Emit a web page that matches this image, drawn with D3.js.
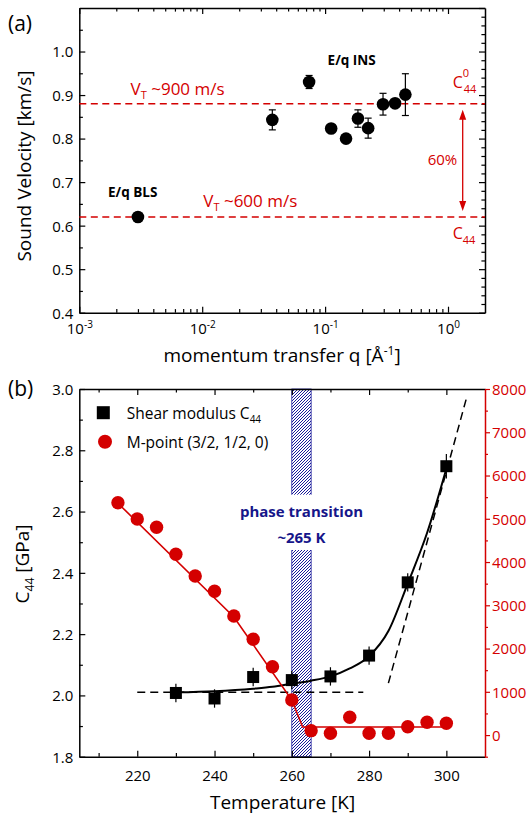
<!DOCTYPE html>
<html>
<head>
<meta charset="utf-8">
<script src="https://cdn.jsdelivr.net/npm/d3@7"></script>
<style>
  body { margin: 0; background: #fff; }
  text { font-family: "Open Sans", sans-serif; }
</style>
</head>
<body>
<div id="chart"></div>
<script>
// ---- panel (a): sound velocity vs momentum transfer ----
const qValues   = [0.003, 0.0372, 0.0741, 0.112, 0.148, 0.185, 0.224, 0.296, 0.371, 0.45];
const velValues = [0.62, 0.843, 0.930, 0.823, 0.800, 0.846, 0.824, 0.879, 0.881, 0.901];
const velErrors = [0, 0.023, 0.015, 0, 0, 0.02, 0.023, 0.025, 0, 0.048];
const vtLevels  = [0.88, 0.62];
const qTicks    = [1e-3, 1e-2, 1e-1, 1];
const qTickExp  = ["-3", "-2", "-1", "0"];
const velTicks  = [0.4, 0.5, 0.6, 0.7, 0.8, 0.9, 1.0];

// ---- panel (b): C44 and M-point vs temperature ----
const tempC44   = [230, 240, 250, 260, 270, 280, 290, 300];
const c44Values = [2.008, 1.99, 2.06, 2.05, 2.062, 2.13, 2.369, 2.748];
const c44Errors = [0.03, 0.03, 0.03, 0.03, 0.03, 0.03, 0.03, 0.04];
const c44FitT   = [230, 240, 250, 255, 260, 265, 270, 275, 280, 285, 290, 295, 300];
const c44FitV   = [2.010, 2.014, 2.022, 2.028, 2.038, 2.048, 2.062, 2.088, 2.128, 2.21, 2.365, 2.53, 2.74];
const tempM     = [215, 220, 225, 230, 235, 240, 245, 250, 255, 260, 265, 270, 275, 280, 285, 290, 295, 300];
const mValues   = [5372, 4995, 4803, 4179, 3678, 3324, 2753, 2215, 1581, 811, 102, 42, 411, 42, 42, 194, 296, 273];
const mFitT     = [215, 245, 260, 262.8, 300];
const mFitV     = [5360, 2730, 810, 185, 185];
const lowDashT  = [220, 278.5];
const lowDashV  = [2.01, 2.01];
const highDashT = [285, 305.2];
const highDashV = [2.04, 2.97];
const transitionT = [260, 265];
const tempTicks = [220, 240, 260, 280, 300];
const c44Ticks  = [1.8, 2.0, 2.2, 2.4, 2.6, 2.8, 3.0];
const mTicks    = [0, 1000, 2000, 3000, 4000, 5000, 6000, 7000, 8000];

const RED = "#d40000";
const NAVY = "#16168a";
const width = 531, height = 817;

const svg = d3.select("#chart").append("svg")
  .attr("width", width).attr("height", height);

const defs = svg.append("defs");
defs.append("pattern")
  .attr("id", "hatch").attr("patternUnits", "userSpaceOnUse")
  .attr("width", 3).attr("height", 3)
  .append("path")
  .attr("d", "M-1,1 l2,-2 M0,3 l3,-3 M2,4 l2,-2")
  .attr("stroke", "#1a1a9a").attr("stroke-width", 1);

// helper: draw an axis, optionally with minor ticks
function drawAxis(g, axisFn, scale, major, minor, size, color, labels) {
  const ax = g.append("g");
  ax.call(axisFn(scale).tickValues(major).tickSizeInner(size).tickSizeOuter(0)
    .tickFormat(labels ? labels : () => ""));
  if (minor) {
    const mx = g.append("g");
    mx.call(axisFn(scale).tickValues(minor).tickSizeInner(size * 0.6).tickSizeOuter(0).tickFormat(() => ""));
    mx.select(".domain").remove();
    mx.selectAll("line").attr("stroke", color).attr("stroke-width", 1.2);
  }
  ax.select(".domain").attr("stroke", color).attr("stroke-width", 1.5);
  ax.selectAll("line").attr("stroke", color).attr("stroke-width", 1.2);
  ax.selectAll("text").attr("fill", color).style("font-size", "15px")
    .style("font-family", "'Open Sans', sans-serif");
  return ax;
}

// ================= panel (a) =================
const A = { left: 79.3, right: 485, top: 8, bottom: 312.7 };
const xA = d3.scaleLog().domain([1e-3, 2]).range([A.left, A.right]);
const yA = d3.scaleLinear().domain([0.4, 1.1]).range([A.bottom, A.top]);

const qMinor = [];
[1e-3, 1e-2, 1e-1, 1].forEach(d => { for (let k = 2; k <= 9; k++) if (d * k < 2) qMinor.push(d * k); });
const velMinorL = d3.range(0.45, 1.1, 0.1);
const velMinorR = d3.range(0.4, 1.1001, 0.02).filter(v => Math.abs(v * 10 - Math.round(v * 10)) > 0.01);

const gA = svg.append("g");
// bottom
const axAB = drawAxis(gA.append("g").attr("transform", `translate(0,${A.bottom})`),
  d3.axisBottom, xA, qTicks, qMinor, -6, "#000", () => "");
axAB.selectAll(".tick").each(function(d, i) {
  const t = d3.select(this).append("text").attr("y", 21).attr("text-anchor", "middle")
    .attr("fill", "#000").style("font-size", "15px");
  t.append("tspan").text("10");
  t.append("tspan").attr("dy", -6).style("font-size", "10px").text(qTickExp[i]);
});
// top
drawAxis(gA.append("g").attr("transform", `translate(0,${A.top})`),
  d3.axisTop, xA, qTicks, qMinor, -6, "#000", null);
// left
const axAL = drawAxis(gA.append("g").attr("transform", `translate(${A.left},0)`),
  d3.axisLeft, yA, velTicks, velMinorL, -6, "#000", d3.format(".1f"));
axAL.selectAll("text").attr("x", -6).attr("dy", "0.36em");
// right
drawAxis(gA.append("g").attr("transform", `translate(${A.right},0)`),
  d3.axisRight, yA, d3.range(0.4, 1.1001, 0.1), velMinorR, -6, "#000", null);

// dashed V_T lines
gA.selectAll("line.vt").data(vtLevels).enter().append("line")
  .attr("x1", A.left).attr("x2", A.right)
  .attr("y1", d => yA(d)).attr("y2", d => yA(d))
  .attr("stroke", RED).attr("stroke-width", 1.5).attr("stroke-dasharray", "7,4.5");

// error bars
const ptsA = qValues.map((q, i) => ({ q, v: velValues[i], e: velErrors[i] }));
const eb = gA.selectAll("g.eb").data(ptsA.filter(d => d.e > 0)).enter().append("g");
eb.append("line").attr("x1", d => xA(d.q)).attr("x2", d => xA(d.q))
  .attr("y1", d => yA(d.v - d.e)).attr("y2", d => yA(d.v + d.e))
  .attr("stroke", "#000").attr("stroke-width", 1.2);
[-1, 1].forEach(s => {
  eb.append("line").attr("x1", d => xA(d.q) - 3.5).attr("x2", d => xA(d.q) + 3.5)
    .attr("y1", d => yA(d.v + s * d.e)).attr("y2", d => yA(d.v + s * d.e))
    .attr("stroke", "#000").attr("stroke-width", 1.2);
});
gA.selectAll("circle.pt").data(ptsA).enter().append("circle")
  .attr("cx", d => xA(d.q)).attr("cy", d => yA(d.v)).attr("r", 6.3).attr("fill", "#000");

// arrow between levels
const arrX = 462.7;
gA.append("line").attr("x1", arrX).attr("x2", arrX)
  .attr("y1", yA(vtLevels[0]) + 14).attr("y2", yA(vtLevels[1]) - 14)
  .attr("stroke", RED).attr("stroke-width", 1.3);
gA.append("path")
  .attr("d", `M${arrX},${yA(vtLevels[0]) + 6} l-3.5,10 l7,0 z M${arrX},${yA(vtLevels[1]) - 6} l-3.5,-10 l7,0 z`)
  .attr("fill", RED);

// annotations
function vtLabel(x, y, rest) {
  const t = gA.append("text").attr("x", x).attr("y", y).attr("fill", RED).style("font-size", "17px");
  t.append("tspan").text("V");
  t.append("tspan").attr("dy", 4).style("font-size", "11px").text("T");
  t.append("tspan").attr("dy", -4).text(rest);
}
vtLabel(130.6, 95, " ~900 m/s");
vtLabel(203.3, 207.3, " ~600 m/s");
gA.append("text").attr("x", 327.6).attr("y", 65.3).style("font-size", "13.5px")
  .style("font-weight", "bold").text("E/q INS");
gA.append("text").attr("x", 108).attr("y", 196.7).style("font-size", "13.5px")
  .style("font-weight", "bold").text("E/q BLS");
gA.append("text").attr("x", 427.7).attr("y", 165).attr("fill", RED).style("font-size", "15px").text("60%");
function cLabel(x, y, sup) {
  const t = gA.append("text").attr("x", x).attr("y", y).attr("fill", RED).style("font-size", "16px");
  t.append("tspan").text("C");
  if (sup) {
    t.append("tspan").attr("dy", -11).style("font-size", "11px").text(sup);
    t.append("tspan").attr("x", x + 11).attr("dy", 16).style("font-size", "11px").text("44");
  } else {
    t.append("tspan").attr("dy", 5).style("font-size", "11px").text("44");
  }
}
cLabel(452.7, 88, "0");
cLabel(452.7, 238.5, null);

// titles
svg.append("text").attr("transform", "translate(31,166) rotate(-90)").attr("text-anchor", "middle")
  .style("font-size", "19px").text("Sound Velocity [km/s]");
const xtA = svg.append("text").attr("x", 282).attr("y", 361.7).attr("text-anchor", "middle")
  .style("font-size", "19px");
xtA.append("tspan").text("momentum transfer q [Å");
xtA.append("tspan").attr("dy", -7).style("font-size", "12px").text("-1");
xtA.append("tspan").attr("dy", 7).text("]");
svg.append("text").attr("x", 8).attr("y", 31).style("font-size", "21px").text("(a)");

// ================= panel (b) =================
const B = { left: 79.3, right: 485, top: 389, bottom: 756.7 };
const xB = d3.scaleLinear().domain([205, 310]).range([B.left, B.right]);
const yB = d3.scaleLinear().domain([1.8, 3.0]).range([B.bottom, B.top]);
const yM = d3.scaleLinear().domain([-500, 8000]).range([B.bottom, B.top]);
const gB = svg.append("g");

// transition band
const band = gB.append("g");
band.append("rect")
  .attr("x", xB(transitionT[0])).attr("width", xB(transitionT[1]) - xB(transitionT[0]))
  .attr("y", B.top).attr("height", B.bottom - B.top)
  .attr("fill", "url(#hatch)").attr("stroke", "#1a1a9a").attr("stroke-width", 0.8);

const tempMinor = d3.range(210, 310, 20);
const axBB = drawAxis(gB.append("g").attr("transform", `translate(0,${B.bottom})`),
  d3.axisBottom, xB, tempTicks, tempMinor, -6, "#000", d3.format("d"));
axBB.selectAll("text").attr("y", 14);
drawAxis(gB.append("g").attr("transform", `translate(0,${B.top})`),
  d3.axisTop, xB, tempTicks, tempMinor, -6, "#000", null);
const axBL = drawAxis(gB.append("g").attr("transform", `translate(${B.left},0)`),
  d3.axisLeft, yB, c44Ticks, d3.range(1.9, 3.0, 0.2), -6, "#000", d3.format(".1f"));
axBL.selectAll("text").attr("x", -6).attr("dy", "0.36em");
const axBR = drawAxis(gB.append("g").attr("transform", `translate(${B.right},0)`),
  d3.axisRight, yM, mTicks, d3.range(-500, 8000, 1000), 5, RED, d3.format("d"));
axBR.selectAll("text").attr("x", 7).attr("dy", "0.36em");

// phase transition label with white backing
const ptG = gB.append("g");
const pt1 = ptG.append("text").attr("x", xB(262.5)).attr("y", 516.7).attr("text-anchor", "middle")
  .attr("fill", NAVY).style("font-size", "15px").style("font-weight", "bold").text("phase transition");
ptG.append("text").attr("x", xB(262.5)).attr("y", 542.7).attr("text-anchor", "middle")
  .attr("fill", NAVY).style("font-size", "15px").style("font-weight", "bold").text("~265 K");
const b1 = pt1.node().getBBox();
ptG.insert("rect", "text").attr("x", xB(transitionT[0]) - 1).attr("width", xB(transitionT[1]) - xB(transitionT[0]) + 2)
  .attr("y", b1.y - 6).attr("height", 550 - (b1.y - 6)).attr("fill", "#fff");

// dashed guide lines
const lineB = d3.line().x(d => xB(d[0])).y(d => yB(d[1]));
gB.append("path").attr("d", lineB(lowDashT.map((t, i) => [t, lowDashV[i]])))
  .attr("fill", "none").attr("stroke", "#000").attr("stroke-width", 1.5).attr("stroke-dasharray", "8,5");
gB.append("path").attr("d", lineB(highDashT.map((t, i) => [t, highDashV[i]])))
  .attr("fill", "none").attr("stroke", "#000").attr("stroke-width", 1.5).attr("stroke-dasharray", "8,5");

// C44 fit curve
gB.append("path")
  .attr("d", d3.line().curve(d3.curveMonotoneX).x(d => xB(d[0])).y(d => yB(d[1]))(c44FitT.map((t, i) => [t, c44FitV[i]])))
  .attr("fill", "none").attr("stroke", "#000").attr("stroke-width", 2);

// M-point line
gB.append("path")
  .attr("d", d3.line().x(d => xB(d[0])).y(d => yM(d[1]))(mFitT.map((t, i) => [t, mFitV[i]])))
  .attr("fill", "none").attr("stroke", RED).attr("stroke-width", 1.6);

// C44 squares with error bars
const ptsB = tempC44.map((t, i) => ({ t, v: c44Values[i], e: c44Errors[i] }));
gB.selectAll("line.ebB").data(ptsB).enter().append("line")
  .attr("x1", d => xB(d.t)).attr("x2", d => xB(d.t))
  .attr("y1", d => yB(d.v - d.e)).attr("y2", d => yB(d.v + d.e))
  .attr("stroke", "#000").attr("stroke-width", 1.2);
gB.selectAll("rect.sq").data(ptsB).enter().append("rect")
  .attr("x", d => xB(d.t) - 6).attr("y", d => yB(d.v) - 6)
  .attr("width", 12).attr("height", 12).attr("fill", "#000");

// M-point circles
gB.selectAll("circle.m").data(tempM.map((t, i) => ({ t, v: mValues[i] }))).enter().append("circle")
  .attr("cx", d => xB(d.t)).attr("cy", d => yM(d.v)).attr("r", 6.7).attr("fill", RED);

// legend
const leg = gB.append("g");
leg.append("rect").attr("x", 103.3 - 6.5).attr("y", 412.7 - 6.5).attr("width", 13).attr("height", 13).attr("fill", "#000");
leg.append("circle").attr("cx", 105).attr("cy", 441.7).attr("r", 7).attr("fill", RED);
const l1 = leg.append("text").attr("x", 126.7).attr("y", 419.3).style("font-size", "15.5px");
l1.append("tspan").text("Shear modulus C");
l1.append("tspan").attr("dy", 4).style("font-size", "10px").text("44");
leg.append("text").attr("x", 126.7).attr("y", 448.3).style("font-size", "15.5px").text("M-point (3/2, 1/2, 0)");

// titles
const ytB = svg.append("text").attr("transform", "translate(29,564) rotate(-90)").attr("text-anchor", "middle")
  .style("font-size", "19px");
ytB.append("tspan").text("C");
ytB.append("tspan").attr("dy", 5).style("font-size", "12px").text("44");
ytB.append("tspan").attr("dy", -5).text(" [GPa]");
svg.append("text").attr("x", 282.6).attr("y", 809.3).attr("text-anchor", "middle")
  .style("font-size", "19px").text("Temperature [K]");
svg.append("text").attr("x", 8).attr("y", 396).style("font-size", "21px").text("(b)");
</script>
</body>
</html>
